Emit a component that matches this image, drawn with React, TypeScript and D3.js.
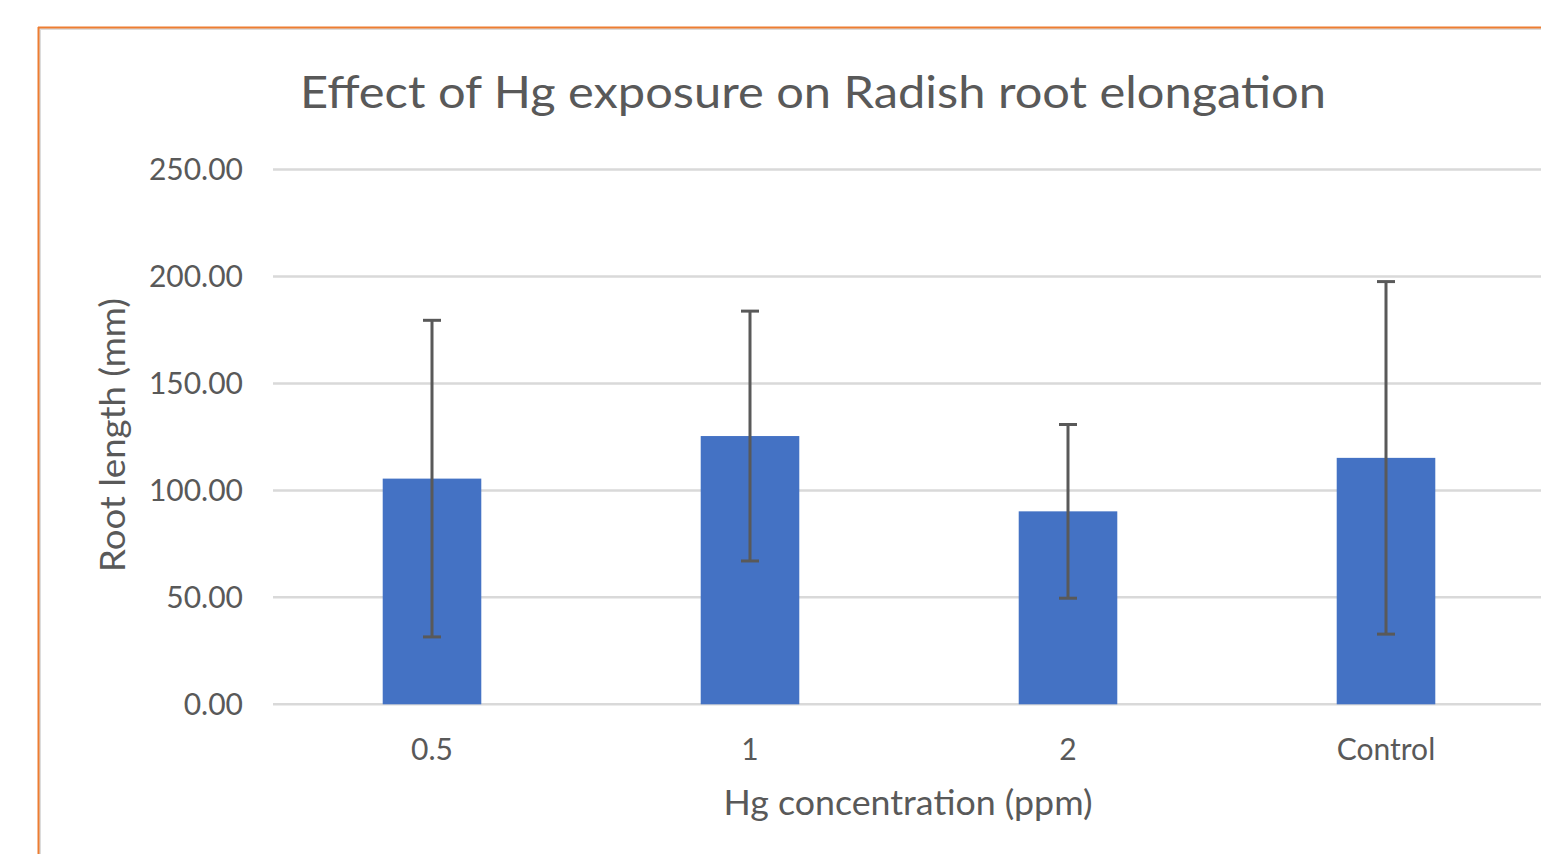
import React from 'react';
import * as d3 from 'd3';

const categories = ['0.5', '1', '2', 'Control'];
const means = [105.5, 125.4, 90.2, 115.2];
const errors = [74, 58.4, 40.6, 82.4];
const yTicks = [0, 50, 100, 150, 200, 250];

const W = 1541;
const H = 854;
const textColor = '#595959';
const font = 'Lato, "Open Sans", sans-serif';

export default function App() {
  const x = d3
    .scaleBand<string>()
    .domain(categories)
    .range([273, 1545])
    .paddingInner(0.69)
    .paddingOuter(0.345);

  const y = d3.scaleLinear().domain([0, 250]).range([704.3, 169.5]);
  const fmt = d3.format('.2f');

  return (
    <svg width={W} height={H} style={{position: 'absolute', left: 0, top: 0, background: '#fff'}}>
      {/* chart frame */}
      <rect x={40} y={29} width={W} height={H} fill="#fff" stroke="#dcdcdc" strokeWidth={2} />
      <line x1={38.5} y1={27} x2={38.5} y2={H} stroke="#ED7D31" strokeWidth={2} />
      <line x1={38} y1={27.5} x2={W} y2={27.5} stroke="#ED7D31" strokeWidth={2} />

      <text x={813} y={108} fontFamily={font} fontSize={44} fill={textColor}
        textLength={1026} lengthAdjust="spacingAndGlyphs" textAnchor="middle">
        Effect of Hg exposure on Radish root elongation
      </text>

      {/* gridlines + y ticks */}
      {yTicks.map(t => (
        <g key={t}>
          <line x1={273} x2={W} y1={y(t)} y2={y(t)} stroke="#d9d9d9" strokeWidth={2.5} />
          <text x={243} y={y(t)} dy="0.36em" textAnchor="end" fontFamily={font}
            fontSize={30} fill={textColor}>{fmt(t)}</text>
        </g>
      ))}

      {/* bars */}
      {categories.map((c, i) => (
        <rect key={c} x={x(c)} y={y(means[i])} width={x.bandwidth()}
          height={y(0) - y(means[i])} fill="#4472C4" />
      ))}

      {/* error bars */}
      {categories.map((c, i) => {
        const cx = (x(c) as number) + x.bandwidth() / 2;
        const top = y(means[i] + errors[i]);
        const bot = y(means[i] - errors[i]);
        return (
          <g key={c} stroke="#595959" strokeWidth={3}>
            <line x1={cx} x2={cx} y1={top} y2={bot} />
            <line x1={cx - 9} x2={cx + 9} y1={top} y2={top} />
            <line x1={cx - 9} x2={cx + 9} y1={bot} y2={bot} />
          </g>
        );
      })}

      {/* category labels */}
      {categories.map(c => (
        <text key={c} x={(x(c) as number) + x.bandwidth() / 2} y={760} textAnchor="middle"
          fontFamily={font} fontSize={30} fill={textColor}>{c}</text>
      ))}

      <text x={908} y={815} textAnchor="middle" fontFamily={font} fontSize={34} fill={textColor}
        textLength={369} lengthAdjust="spacingAndGlyphs">Hg concentration (ppm)</text>

      <text transform="translate(125,435) rotate(-90)" textAnchor="middle" fontFamily={font}
        fontSize={34} fill={textColor} textLength={274} lengthAdjust="spacingAndGlyphs">
        Root length (mm)
      </text>
    </svg>
  );
}
